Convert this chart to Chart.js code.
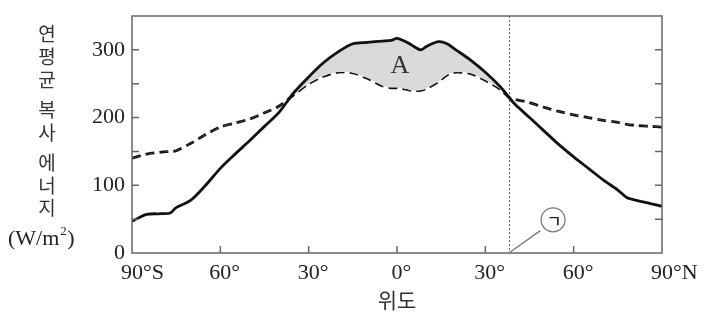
<!DOCTYPE html>
<html>
<head>
<meta charset="utf-8">
<script src="https://cdn.jsdelivr.net/npm/chart.js@4.4.1/dist/chart.umd.min.js"></script>
<style>
  html, body { margin: 0; padding: 0; background: #fff; }
  #wrap { width: 711px; height: 322px; }
</style>
</head>
<body>
<div id="wrap"><canvas id="radChart" width="711" height="322"></canvas></div>
<script>
// latitude (deg, south negative) and annual mean radiation (W/m2)
const latitudes = [-90, -85, -80, -77, -75, -70, -65, -60, -55, -50, -45, -40, -35, -30, -25, -20, -15, -10, -5, -2, 0, 3, 5, 8, 10, 14, 17, 20, 25, 30, 35, 38, 40, 45, 50, 55, 60, 65, 70, 75, 78, 82, 86, 90];
const absorbedSolar = [47, 57, 58, 59, 67, 78, 100, 125, 146, 166, 187, 208, 237, 260, 281, 297, 309, 311, 313, 314, 317, 312, 307, 300, 305, 312, 309, 300, 285, 267, 246, 230, 220, 200, 180, 160, 142, 125, 108, 93, 82, 77, 73, 69];
const emittedEarth = [140, 146, 149, 150, 151, 162, 175, 186, 192, 198, 207, 217, 234, 250, 261, 267, 266, 258, 247, 244, 244, 242, 240, 240, 243, 253, 263, 267, 265, 255, 242, 230, 227, 222, 215, 209, 204, 200, 196, 193, 190, 188, 187, 186];

const xTickValues = [-90, -60, -30, 0, 30, 60, 90];
const xTickNumbers = ['90', '60', '30', '0', '30', '60', '90'];
const xTickSuffixes = ['°S', '°', '°', '°', '°', '°', '°N'];
const yTickValues = [0, 50, 100, 150, 200, 250, 300, 350];
const yLabelValues = [0, 100, 200, 300];
const markerLat = 38;

const serif = '"Liberation Serif", "DejaVu Serif", serif';
const gothic = '"Noto Sans CJK KR", "Noto Sans", sans-serif';

function toPoints(values) {
  return latitudes.map((lat, i) => ({ x: lat, y: values[i] }));
}

// frame, inward ticks, labels and the marker line
const decorations = {
  id: 'decorations',
  beforeDatasetsDraw(chart) {
    const { ctx, chartArea: a, scales: { x } } = chart;
    const mx = Math.round(x.getPixelForValue(markerLat)) + 0.5;
    ctx.save();
    ctx.strokeStyle = '#666';
    ctx.lineWidth = 1;
    ctx.setLineDash([2, 2]);
    ctx.beginPath();
    ctx.moveTo(mx, a.top);
    ctx.lineTo(mx, a.bottom);
    ctx.stroke();
    ctx.restore();
  },
  afterDraw(chart) {
    const { ctx, chartArea: a, scales: { x, y } } = chart;
    ctx.save();

    // plot frame
    ctx.strokeStyle = '#666';
    ctx.lineWidth = 1.5;
    ctx.strokeRect(a.left, a.top, a.right - a.left, a.bottom - a.top);

    // inward tick marks
    ctx.beginPath();
    yTickValues.forEach(v => {
      const py = y.getPixelForValue(v);
      if (v === 0 || v === 350) return;
      ctx.moveTo(a.left, py); ctx.lineTo(a.left + 7, py);
      ctx.moveTo(a.right, py); ctx.lineTo(a.right - 7, py);
    });
    xTickValues.forEach(v => {
      const px = x.getPixelForValue(v);
      if (v === -90 || v === 90) return;
      ctx.moveTo(px, a.bottom); ctx.lineTo(px, a.bottom - 7);
    });
    ctx.stroke();

    // y tick labels
    ctx.fillStyle = '#222';
    ctx.font = '22px ' + serif;
    ctx.textAlign = 'right';
    ctx.textBaseline = 'middle';
    yLabelValues.forEach(v => {
      ctx.fillText(String(v), a.left - 7, y.getPixelForValue(v));
    });

    // x tick labels: number centred on the tick, degree sign trailing
    ctx.textAlign = 'left';
    xTickValues.forEach((v, i) => {
      const px = x.getPixelForValue(v);
      const w = ctx.measureText(xTickNumbers[i]).width;
      ctx.fillText(xTickNumbers[i] + xTickSuffixes[i], px - w / 2, a.bottom + 20);
    });

    // axis titles
    ctx.fillStyle = '#333';
    ctx.font = '21px ' + gothic;
    ctx.textAlign = 'center';
    ctx.fillText('위도', (a.left + a.right) / 2, 300);

    const colX = 47;
    const column = [['연', 34], ['평', 57], ['균', 80], ['복', 110], ['사', 133], ['에', 163], ['너', 186], ['지', 208]];
    ctx.font = '19px ' + gothic;
    column.forEach(([ch, cy]) => ctx.fillText(ch, colX, cy));

    ctx.fillStyle = '#222';
    ctx.font = '22px ' + serif;
    ctx.textAlign = 'left';
    const unitLeft = 8;
    ctx.fillText('(W/m', unitLeft, 239);
    const unitW = ctx.measureText('(W/m').width;
    ctx.font = '13px ' + serif;
    ctx.fillText('2', unitLeft + unitW + 1, 232);
    ctx.font = '22px ' + serif;
    ctx.fillText(')', unitLeft + unitW + 8, 239);

    // region A label
    ctx.textAlign = 'center';
    ctx.font = '26px ' + serif;
    ctx.fillStyle = '#333';
    ctx.fillText('A', x.getPixelForValue(1), y.getPixelForValue(276));

    // circled ㄱ with leader line to the marker latitude
    const cx = x.getPixelForValue(53), cy = y.getPixelForValue(49);
    ctx.strokeStyle = '#777';
    ctx.lineWidth = 1.3;
    ctx.beginPath();
    ctx.moveTo(x.getPixelForValue(markerLat), a.bottom);
    ctx.lineTo(x.getPixelForValue(48.7), y.getPixelForValue(33));
    ctx.stroke();
    ctx.beginPath();
    ctx.arc(cx, cy, 12, 0, Math.PI * 2);
    ctx.stroke();
    ctx.fillStyle = '#222';
    ctx.font = '500 16px ' + gothic;
    ctx.fillText('ㄱ', cx + 1, cy + 1);

    ctx.restore();
  }
};

const ctx = document.getElementById('radChart').getContext('2d');
const radChart = new Chart(ctx, {
  type: 'line',
  data: {
    datasets: [
      {
        label: '흡수 태양 복사',
        data: toPoints(absorbedSolar),
        borderColor: '#111',
        borderWidth: 2.8,
        pointRadius: 0,
        tension: 0.3,
        fill: { target: 1, above: '#d9d9d9', below: 'rgba(0,0,0,0)' },
      },
      {
        label: '방출 지구 복사',
        data: toPoints(emittedEarth),
        borderColor: '#111',
        borderWidth: 2.8,
        borderDash: [9, 5],
        pointRadius: 0,
        tension: 0.3,
        fill: false,
      },
    ],
  },
  options: {
    responsive: false,
    animation: false,
    devicePixelRatio: 1,
    layout: { padding: { top: 16, right: 49, left: 0, bottom: 0 } },
    plugins: { legend: { display: false }, tooltip: { enabled: false } },
    scales: {
      x: {
        type: 'linear',
        min: -90,
        max: 90,
        grid: { display: false },
        border: { display: false },
        ticks: { display: false },
        afterFit(scale) { scale.height = 69; },
      },
      y: {
        min: 0,
        max: 350,
        grid: { display: false },
        border: { display: false },
        ticks: { display: false },
        afterFit(scale) { scale.width = 132; },
      },
    },
  },
  plugins: [decorations],
});
</script>
</body>
</html>
